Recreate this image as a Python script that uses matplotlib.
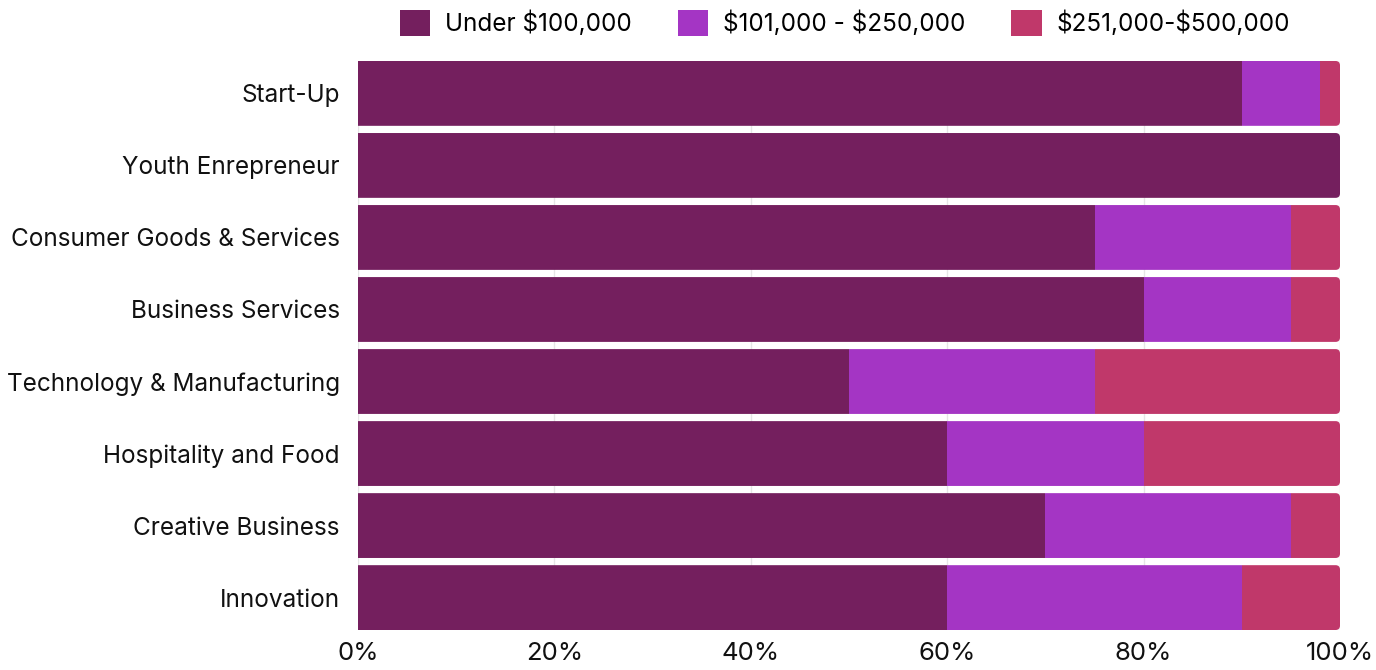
import matplotlib
matplotlib.use("Agg")
import matplotlib.pyplot as plt
from matplotlib.patches import FancyBboxPatch
import numpy as np

categories = ["Start-Up", "Youth Enrepreneur", "Consumer Goods & Services",
              "Business Services", "Technology & Manufacturing",
              "Hospitality and Food", "Creative Business", "Innovation"]
under_100k = [90, 100, 75, 80, 50, 60, 70, 60]
from_101k_to_250k = [8, 0, 20, 15, 25, 20, 25, 30]
from_251k_to_500k = [2, 0, 5, 5, 25, 20, 5, 10]

series = [
    (r"Under \$100,000", under_100k, "#741F5E"),
    (r"\$101,000 - \$250,000", from_101k_to_250k, "#A435C4"),
    (r"\$251,000-\$500,000", from_251k_to_500k, "#C0386A"),
]

plt.rcParams['font.family'] = ['Inter', 'DejaVu Sans']

fig = plt.figure(figsize=(13.76, 6.70), dpi=100)
ax = fig.add_axes([358 / 1376, 40 / 670, (1340 - 358) / 1376, (630 - 61) / 670])

ax.set_xlim(0, 100)
ax.set_ylim(len(categories) - 0.55, -0.45)

y = np.arange(len(categories))
bar_h = 0.9

# rounded right end for each row: clip the stacked segments to a rounded box
# that starts left of the axis so only the right corners show rounding
clips = []
for yi in y:
    clip = FancyBboxPatch((-5, yi - bar_h / 2), 105, bar_h,
                          boxstyle="round,pad=0,rounding_size=0.45",
                          mutation_aspect=9.82 / 72, transform=ax.transData,
                          facecolor="none", edgecolor="none")
    ax.add_patch(clip)
    clips.append(clip)

left = np.zeros(len(categories))
for label, vals, color in series:
    vals = np.array(vals, dtype=float)
    bars = ax.barh(y, vals, left=left, height=bar_h, color=color, label=label, zorder=2)
    for rect, clip in zip(bars, clips):
        rect.set_clip_path(clip)
    left += vals

ax.set_yticks(y)
ax.set_yticklabels(categories, fontsize=17.5, color="#111111")
xt = [0, 20, 40, 60, 80, 100]
ax.set_xticks(xt)
ax.set_xticklabels([f"{v}%" for v in xt], fontsize=18.5, color="#111111")
ax.tick_params(axis="both", length=0)
ax.tick_params(axis="y", pad=13)
ax.tick_params(axis="x", pad=9)
ax.grid(axis="x", color="#E6E6E6", linewidth=1, zorder=0)
ax.set_axisbelow(True)
for s in ax.spines.values():
    s.set_visible(False)

fig.legend(loc="center", bbox_to_anchor=(845 / 1376, 1 - 23 / 670), ncol=3,
           frameon=False, fontsize=17.5, handlelength=1.25, handleheight=1.25,
           columnspacing=1.9, handletextpad=0.6)

fig.savefig("out.png", dpi=100)
